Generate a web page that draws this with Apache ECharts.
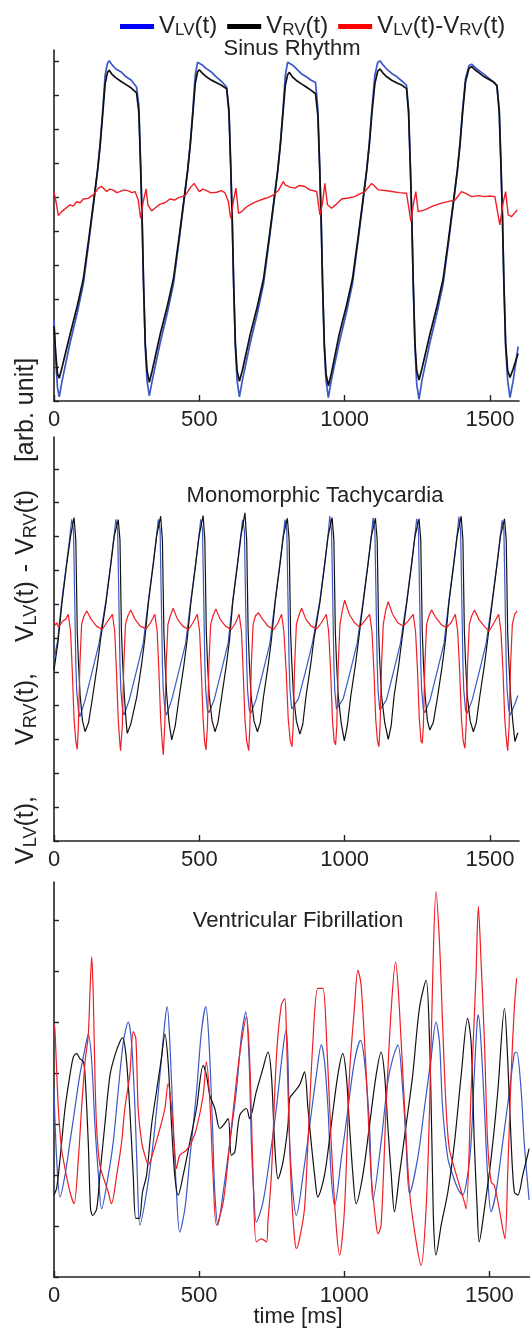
<!DOCTYPE html>
<html><head><meta charset="utf-8">
<script src="https://cdn.jsdelivr.net/npm/echarts@6/dist/echarts.min.js"></script>
<style>html,body{margin:0;padding:0;background:#fff}#c{width:530px;height:1331px}</style>
</head><body><div id="c"></div>
<script>
// ---------------- DATA ----------------
const xTickValues = [0, 500, 1000, 1500];
const sinusYTicks = [0,1,2,3,4,5,6,7,8,9,10];
const tachyYTicks = [0,1,2,3,4,5,6,7,8,9,10,11];
const fibYTicks = [0,1,2,3,4,5,6,7];
const panelTitles = ['Sinus Rhythm', 'Monomorphic Tachycardia', 'Ventricular Fibrillation'];

// Sinus rhythm [time ms, value]
const sinusLV = [[0,2.4],[6,1.2],[12,0.4],[18,0.12],[28,0.6],[55,1.7],[80,2.6],[101,3.45],[120,4.7],[136,5.8],[150,6.8],[159,7.6],[168,8.6],[176,9.6],[184,9.95],[190,10.02],[200,9.9],[213,9.78],[230,9.7],[248,9.55],[266,9.45],[284,9.25],[292,8.7],[298,7.0],[303,5.5],[308,3.5],[314,1.6],[320,0.6],[328,0.15],
[338,0.6],[365,1.7],[390,2.6],[411,3.45],[430,4.7],[446,5.8],[460,6.8],[469,7.6],[478,8.6],[486,9.6],[494,9.98],[500,10.0],[510,9.9],[523,9.8],[540,9.7],[558,9.55],[576,9.42],[594,9.25],[602,8.6],[608,7.0],[613,5.5],[618,3.5],[624,1.6],[630,0.6],[638,0.12],
[648,0.6],[675,1.7],[700,2.6],[721,3.45],[740,4.7],[756,5.8],[770,6.8],[779,7.6],[788,8.6],[796,9.6],[804,9.98],[810,10.02],[820,9.9],[833,9.8],[850,9.65],[868,9.55],[885,9.45],[900,9.38],[908,8.6],[914,7.0],[919,5.5],[924,3.5],[930,1.6],[936,0.6],[944,0.1],
[954,0.6],[981,1.7],[1006,2.6],[1027,3.45],[1046,4.7],[1062,5.8],[1076,6.8],[1085,7.6],[1094,8.6],[1104,9.6],[1114,9.98],[1122,10.02],[1132,9.9],[1145,9.78],[1162,9.65],[1180,9.55],[1198,9.42],[1213,9.3],[1220,8.6],[1226,7.0],[1231,5.5],[1236,3.5],[1242,1.6],[1248,0.5],[1256,0.05],
[1266,0.6],[1293,1.7],[1318,2.6],[1339,3.45],[1358,4.7],[1374,5.8],[1388,6.8],[1397,7.6],[1406,8.6],[1416,9.5],[1428,9.88],[1437,9.92],[1450,9.82],[1465,9.72],[1480,9.62],[1497,9.5],[1512,9.4],[1524,9.28],[1532,8.6],[1538,7.0],[1543,5.5],[1548,3.5],[1554,1.6],[1561,0.6],[1569,0.1],[1580,0.6],[1597,1.6]];

const sinusRV = [[0,2.2],[6,1.4],[12,0.8],[18,0.67],[28,1.0],[55,1.95],[80,2.8],[101,3.6],[120,4.8],[136,5.85],[150,6.8],[159,7.55],[168,8.5],[176,9.35],[184,9.68],[190,9.74],[200,9.62],[213,9.52],[230,9.42],[248,9.32],[266,9.22],[284,9.08],[292,8.5],[298,6.9],[303,5.4],[308,3.5],[314,1.7],[320,0.9],[328,0.55],
[338,0.9],[365,1.95],[390,2.8],[411,3.6],[430,4.8],[446,5.85],[460,6.8],[469,7.55],[478,8.5],[486,9.35],[494,9.7],[500,9.76],[510,9.66],[523,9.56],[540,9.46],[558,9.38],[576,9.3],[594,9.2],[602,8.5],[608,6.9],[613,5.4],[618,3.5],[624,1.7],[630,0.9],[638,0.58],
[648,0.9],[675,1.95],[700,2.8],[721,3.6],[740,4.8],[756,5.85],[770,6.8],[779,7.55],[788,8.5],[796,9.3],[804,9.62],[810,9.68],[820,9.55],[833,9.45],[850,9.35],[868,9.25],[885,9.15],[900,9.05],[908,8.4],[914,6.9],[919,5.4],[924,3.5],[930,1.7],[936,0.8],[944,0.45],
[954,0.8],[981,1.95],[1006,2.8],[1027,3.6],[1046,4.8],[1062,5.85],[1076,6.8],[1085,7.55],[1094,8.5],[1104,9.35],[1114,9.72],[1122,9.78],[1132,9.66],[1145,9.55],[1162,9.45],[1180,9.37],[1198,9.3],[1213,9.2],[1220,8.5],[1226,6.9],[1231,5.4],[1236,3.5],[1242,1.7],[1248,0.9],[1256,0.62],
[1266,0.95],[1293,1.95],[1318,2.8],[1339,3.6],[1358,4.8],[1374,5.85],[1388,6.8],[1397,7.55],[1406,8.5],[1416,9.4],[1428,9.8],[1437,9.85],[1450,9.75],[1465,9.65],[1480,9.55],[1497,9.47],[1512,9.4],[1524,9.3],[1532,8.5],[1538,6.9],[1543,5.4],[1548,3.5],[1554,1.7],[1561,0.9],[1569,0.69],[1580,0.95],[1597,1.4]];

const sinusDiff = [[0,6.17],[7,5.87],[15,5.46],[26,5.58],[38,5.66],[55,5.78],[66,5.74],[78,5.87],[90,5.84],[101,5.95],[118,5.97],[135,6.07],[153,6.27],[164,6.32],[181,6.17],[192,6.24],[204,6.21],[216,6.14],[227,6.17],[240,6.22],[256,6.19],[268,6.14],[279,6.17],[290,5.92],[298,5.38],[307,5.87],[317,6.25],[323,5.78],[336,5.6],[350,5.7],[365,5.8],[382,5.84],[399,5.95],[415,5.92],[428,5.99],[451,6.05],[468,6.27],[482,6.41],[500,6.17],[512,6.24],[525,6.2],[540,6.13],[560,6.15],[575,6.2],[588,6.14],[600,5.87],[608,5.38],[617,5.87],[626,6.27],[635,5.53],[646,5.58],[660,5.7],[674,5.78],[690,5.85],[705,5.9],[720,5.95],[738,6.0],[755,6.07],[772,6.2],[789,6.46],[795,6.37],[812,6.3],[829,6.27],[846,6.35],[863,6.32],[880,6.22],[904,6.17],[915,5.48],[923,5.78],[932,6.41],[941,5.78],[955,5.68],[972,5.8],[990,5.95],[1012,5.98],[1035,6.02],[1052,6.1],[1070,6.17],[1093,6.41],[1116,6.22],[1140,6.2],[1162,6.17],[1188,6.14],[1213,6.12],[1228,5.28],[1236,5.78],[1245,6.17],[1253,5.58],[1276,5.63],[1305,5.75],[1334,5.83],[1358,5.88],[1380,5.92],[1402,6.17],[1420,6.1],[1437,6.02],[1460,6.05],[1483,6.02],[1500,6.04],[1517,6.02],[1534,5.19],[1546,5.87],[1554,6.17],[1563,5.48],[1574,5.43],[1594,5.63]];

// Monomorphic tachycardia
const tachyLV = [[0,5.35],[12,5.9],[27,7.12],[44,8.26],[55,9.04],[61,9.51],
[67,9.19],[71,7.22],[75,5.25],[78,4.46],[84,3.87],[89,3.67],[107,4.17],[130,4.96],[155,5.84],[179,7.12],[196,8.26],[207,9.04],[213,9.51],
[219,9.19],[223,7.22],[227,5.25],[230,4.46],[236,3.87],[241,3.72],[259,4.17],[282,4.96],[307,5.84],[325,7.12],[342,8.26],[353,9.04],[359,9.51],
[365,9.19],[369,7.22],[373,5.25],[376,4.46],[382,3.87],[387,3.72],[405,4.17],[428,4.96],[453,5.84],[471,7.12],[488,8.26],[499,9.04],[505,9.51],
[511,9.19],[515,7.22],[519,5.25],[522,4.46],[528,3.87],[533,3.79],[551,4.17],[574,4.96],[599,5.84],[615,7.12],[632,8.26],[643,9.04],[649,9.49],
[655,9.19],[659,7.22],[663,5.25],[666,4.46],[672,3.87],[677,3.77],[695,4.17],[718,4.96],[743,5.84],[761,7.12],[778,8.26],[789,9.04],[795,9.5],
[801,9.19],[805,7.22],[809,5.25],[812,4.46],[818,3.9],[823,3.87],[841,4.2],[864,4.96],[889,5.84],[915,7.12],[932,8.26],[943,9.04],[949,9.6],
[955,9.19],[959,7.22],[963,5.25],[966,4.46],[972,3.9],[977,3.87],[995,4.2],[1018,4.96],[1043,5.84],[1064,7.12],[1081,8.26],[1092,9.04],[1098,9.55],
[1104,9.19],[1108,7.22],[1112,5.25],[1115,4.46],[1121,3.87],[1126,3.82],[1144,4.17],[1167,4.96],[1192,5.84],[1214,7.12],[1231,8.26],[1242,9.04],[1248,9.52],
[1254,9.19],[1258,7.22],[1262,5.25],[1265,4.46],[1271,3.87],[1276,3.79],[1294,4.17],[1317,4.96],[1342,5.84],[1359,7.12],[1376,8.26],[1387,9.04],[1393,9.58],
[1399,9.19],[1403,7.22],[1407,5.25],[1410,4.46],[1416,3.87],[1421,3.77],[1439,4.17],[1462,4.96],[1487,5.84],[1508,7.12],[1525,8.26],[1536,9.04],[1542,9.48],
[1548,9.19],[1552,7.22],[1556,5.25],[1559,4.46],[1565,3.87],[1570,3.72],[1588,4.1],[1596,4.3]];

const tachyRV = [[0,5.05],[14,5.9],[27,7.0],[44,8.2],[57,9.0],[69,9.56],
[75,8.9],[80,6.2],[84,5.3],[90,4.3],[98,3.55],[107,3.23],[119,3.5],[133,4.27],[149,5.2],[160,5.94],[179,7.05],[196,8.2],[207,9.0],[221,9.5],
[227,8.9],[232,6.2],[236,5.3],[242,4.3],[248,3.55],[252,3.18],[264,3.45],[285,4.27],[301,5.2],[312,5.94],[325,7.05],[342,8.2],[353,9.0],[367,9.6],
[373,8.9],[378,6.2],[382,5.3],[388,4.3],[396,3.5],[405,2.99],[417,3.4],[431,4.27],[447,5.2],[458,5.94],[471,7.05],[488,8.2],[499,9.0],[513,9.62],
[519,8.9],[524,6.2],[528,5.3],[534,4.3],[544,3.55],[554,3.23],[564,3.5],[577,4.27],[593,5.2],[604,5.94],[615,7.05],[632,8.2],[643,9.0],[657,9.7],
[663,8.9],[668,6.2],[672,5.3],[678,4.3],[688,3.55],[700,3.23],[710,3.5],[721,4.27],[737,5.2],[748,5.94],[761,7.05],[778,8.2],[789,9.0],[803,9.54],
[809,8.9],[814,6.2],[818,5.3],[824,4.3],[834,3.55],[846,3.16],[856,3.45],[867,4.27],[883,5.2],[894,5.94],[915,7.05],[932,8.2],[943,9.0],[957,9.56],
[963,8.9],[968,6.2],[972,5.3],[978,4.3],[988,3.5],[999,2.96],[1009,3.4],[1021,4.27],[1037,5.2],[1048,5.94],[1064,7.05],[1081,8.2],[1092,9.0],[1106,9.54],
[1112,8.9],[1117,6.2],[1121,5.3],[1127,4.3],[1138,3.5],[1150,3.0],[1160,3.4],[1170,4.27],[1186,5.2],[1197,5.94],[1214,7.05],[1231,8.2],[1242,9.0],[1256,9.52],
[1262,8.9],[1267,6.2],[1271,5.3],[1277,4.3],[1285,3.55],[1293,3.28],[1305,3.5],[1320,4.27],[1336,5.2],[1347,5.94],[1359,7.05],[1376,8.2],[1387,9.0],[1401,9.6],
[1407,8.9],[1412,6.2],[1416,5.3],[1422,4.3],[1432,3.55],[1443,3.23],[1453,3.5],[1465,4.27],[1481,5.2],[1492,5.94],[1508,7.05],[1525,8.2],[1536,9.0],[1550,9.52],
[1556,8.9],[1561,6.2],[1565,5.3],[1571,4.3],[1579,3.5],[1586,2.94],[1596,3.2]];

const tachyDiff = [[0,6.48],[5,6.38],[10,6.45],[15,6.33],[22,6.4],[30,6.5],[40,6.55],[49,6.7],[57,6.2],[63,5.0],[69,3.6],[75,2.95],[80,2.71],[84,3.4],[89,5.2],[95,6.4],[103,6.65],[113,6.8],[128,6.55],[146,6.35],[166,6.25],[181,6.45],[201,6.7],
[209,6.2],[215,5.0],[221,3.6],[226,2.95],[229,2.67],[235,3.4],[240,5.2],[246,6.4],[254,6.65],[264,6.83],[279,6.55],[297,6.35],[317,6.27],[332,6.45],[347,6.7],
[355,6.2],[361,5.0],[367,3.6],[372,2.95],[376,2.54],[381,3.4],[386,5.2],[392,6.4],[400,6.65],[410,6.88],[425,6.55],[443,6.35],[463,6.25],[478,6.45],[493,6.7],
[501,6.2],[507,5.0],[513,3.6],[518,2.95],[523,2.69],[528,3.4],[533,5.2],[539,6.4],[547,6.65],[557,6.86],[572,6.55],[590,6.35],[610,6.25],[625,6.45],[637,6.7],
[645,6.2],[651,5.0],[657,3.6],[663,2.95],[670,2.67],[674,3.4],[679,5.2],[685,6.4],[693,6.65],[703,6.75],[718,6.55],[736,6.35],[756,6.25],[771,6.45],[783,6.7],
[791,6.2],[799,5.0],[806,3.6],[813,2.95],[819,2.79],[823,3.4],[828,5.2],[834,6.4],[842,6.65],[852,6.88],[867,6.55],[885,6.35],[904,6.27],[920,6.45],[937,6.7],
[945,6.2],[952,5.0],[958,3.6],[964,2.95],[969,2.84],[973,3.4],[978,5.2],[984,6.4],[992,6.8],[1000,7.12],[1016,6.7],[1034,6.45],[1052,6.32],[1068,6.5],[1086,6.7],
[1094,6.2],[1101,5.0],[1107,3.6],[1113,2.95],[1118,2.79],[1122,3.4],[1127,5.2],[1133,6.4],[1141,6.8],[1150,7.07],[1165,6.7],[1183,6.45],[1202,6.35],[1218,6.5],[1236,6.7],
[1244,6.2],[1251,5.0],[1257,3.6],[1263,2.95],[1267,2.89],[1271,3.4],[1276,5.2],[1282,6.4],[1290,6.65],[1299,6.83],[1314,6.6],[1332,6.4],[1350,6.3],[1366,6.45],[1381,6.7],
[1389,6.2],[1396,5.0],[1402,3.6],[1408,2.95],[1414,2.74],[1418,3.4],[1423,5.2],[1429,6.4],[1437,6.65],[1447,6.83],[1462,6.55],[1480,6.35],[1497,6.2],[1514,6.45],[1530,6.7],
[1538,6.2],[1545,5.0],[1551,3.6],[1557,2.95],[1561,2.67],[1566,3.4],[1571,5.2],[1577,6.4],[1585,6.7],[1594,6.8]];

// Ventricular fibrillation
const fibLV = [[0,3.7],[9,2.33],[21,1.57],[38,2.0],[55,2.65],[72,3.31],[89,3.97],[107,4.49],[118,4.77],[130,4.23],[141,2.98],[153,2.0],[164,1.34],[187,2.0],[204,2.65],[221,3.64],[239,4.62],[256,5.01],[267,4.62],[279,3.31],[287,2.0],[296,1.02],[319,1.67],[342,2.65],[365,3.97],[382,5.01],[390,5.31],[399,4.62],[411,2.98],[422,1.67],[433,0.88],[451,1.34],[468,2.33],[491,3.64],[508,4.82],[523,5.31],[534,4.62],[546,2.98],[554,1.67],[565,1.02],[583,1.67],[606,2.65],[628,3.64],[646,4.75],[661,5.21],[672,4.29],[680,2.65],[688,1.67],[697,1.08],[720,1.47],[743,2.33],[766,3.31],[789,4.49],[800,4.85],[806,4.29],[812,2.65],[823,1.67],[835,1.21],[858,2.0],[881,2.98],[904,3.97],[921,4.56],[932,4.23],[944,3.31],[955,2.0],[967,1.41],[990,2.33],[1013,3.31],[1035,4.23],[1056,4.65],[1070,4.23],[1087,2.98],[1099,1.51],[1127,2.65],[1150,3.83],[1167,4.29],[1185,4.56],[1202,3.64],[1213,2.65],[1225,1.64],[1253,2.33],[1276,3.31],[1299,4.29],[1316,5.01],[1328,4.62],[1339,3.31],[1357,2.33],[1374,2.0],[1391,1.74],[1408,1.61],[1425,2.0],[1437,2.65],[1448,3.97],[1458,5.01],[1462,5.15],[1471,4.62],[1483,3.31],[1494,2.0],[1506,1.28],[1523,1.67],[1546,2.65],[1569,3.64],[1586,4.39],[1594,4.42],[1609,3.7],[1620,2.65],[1637,1.51]];

const fibRV = [[0,1.61],[9,1.74],[21,2.33],[38,3.31],[55,3.97],[67,4.33],[78,4.39],[89,4.29],[101,4.23],[107,3.97],[118,2.65],[126,1.34],[133,1.21],[147,1.34],[158,2.0],[175,2.98],[193,3.97],[210,4.36],[227,4.62],[236,4.7],[248,4.36],[261,3.31],[273,2.0],[282,1.15],[294,1.15],[305,1.67],[319,2.0],[336,2.98],[353,3.64],[370,4.29],[382,4.77],[393,4.23],[405,2.98],[416,2.0],[428,1.61],[445,2.0],[468,2.65],[491,3.31],[514,4.16],[525,3.97],[537,3.57],[554,3.31],[571,2.92],[583,2.98],[600,3.11],[611,2.39],[623,2.46],[640,3.18],[663,3.31],[674,3.11],[697,3.64],[720,4.1],[737,4.42],[749,3.97],[760,2.65],[772,1.93],[789,2.26],[806,2.98],[812,3.51],[829,3.64],[846,3.77],[863,4.03],[875,3.31],[886,2.65],[898,2.0],[909,1.57],[932,2.0],[955,2.98],[978,3.97],[995,4.39],[1007,3.97],[1018,2.98],[1030,2.0],[1041,1.44],[1064,2.0],[1087,2.98],[1110,3.97],[1127,4.42],[1139,3.97],[1150,2.98],[1162,2.0],[1173,1.28],[1190,2.0],[1213,2.98],[1236,3.97],[1259,5.28],[1282,5.83],[1294,4.62],[1302,2.65],[1308,1.02],[1316,0.43],[1334,1.02],[1357,1.67],[1380,2.65],[1403,3.97],[1425,5.08],[1437,4.62],[1448,2.65],[1458,1.34],[1465,0.69],[1483,1.34],[1506,2.33],[1529,3.64],[1552,5.28],[1563,4.29],[1575,2.65],[1586,1.67],[1598,1.61],[1615,2.0],[1637,2.52]];

const fibDiff = [[0,4.95],[3,4.88],[15,3.31],[26,2.52],[38,2.13],[55,1.67],[69,1.44],[84,2.33],[95,3.31],[107,4.23],[118,4.75],[124,5.6],[130,6.29],[135,5.6],[141,3.97],[147,2.92],[158,2.2],[175,1.87],[187,1.67],[198,1.44],[216,2.0],[233,2.65],[244,3.31],[261,3.97],[273,4.82],[282,4.69],[290,3.31],[302,2.65],[313,2.39],[325,2.2],[342,2.46],[365,2.92],[382,3.31],[393,3.8],[405,3.31],[416,2.46],[422,2.13],[433,2.39],[456,2.49],[474,2.65],[491,2.92],[514,3.57],[525,4.23],[537,3.44],[548,2.0],[560,1.02],[583,1.47],[606,2.65],[628,3.83],[646,4.62],[663,5.11],[674,4.29],[686,2.0],[697,0.69],[714,0.75],[732,0.69],[737,1.08],[749,2.0],[766,4.29],[783,5.34],[795,5.47],[800,4.95],[806,3.7],[818,1.67],[829,0.75],[835,0.56],[846,0.75],[863,1.34],[875,2.65],[892,4.62],[909,5.67],[926,5.67],[938,4.82],[955,2.65],[972,1.02],[984,0.43],[1001,1.34],[1018,3.97],[1035,5.28],[1047,6.03],[1058,5.74],[1076,3.97],[1093,2.0],[1110,1.02],[1116,0.85],[1127,1.02],[1144,3.31],[1162,5.28],[1177,6.19],[1190,5.28],[1208,3.31],[1225,1.67],[1248,0.69],[1265,0.23],[1282,1.34],[1294,3.31],[1305,5.93],[1316,7.57],[1328,6.59],[1339,4.95],[1351,3.31],[1362,2.52],[1380,2.13],[1397,1.8],[1414,1.47],[1420,1.34],[1437,3.64],[1454,5.93],[1462,7.28],[1471,6.26],[1483,4.62],[1494,2.65],[1506,1.87],[1517,1.8],[1534,1.34],[1546,0.95],[1554,0.75],[1563,2.0],[1575,3.97],[1586,5.28],[1594,5.87]];

// ---------------- CHART ----------------
const FONT = '"Liberation Sans", Arial, Helvetica, sans-serif';
const BLUE = '#3a58c6', BLACK = '#111111', RED = '#f01d24';
const grids = [
  {left: 54, right: 11, top: 50, height: 351},
  {left: 54, right: 11, top: 437, height: 404},
  {left: 54, right: 0, top: 882, height: 395}
];
const xMax = [1600, 1600, 1640];
const yMax = [10.34, 11.94, 7.76];
const yTicks = [sinusYTicks, tachyYTicks, fibYTicks];

const xAxes = grids.map((g, i) => ({
  type: 'value', gridIndex: i, min: 0, max: xMax[i], interval: 500,
  axisLine: {lineStyle: {color: '#222', width: 1.6}},
  axisTick: {inside: true, length: 6, lineStyle: {color: '#222', width: 1.4}, customValues: xTickValues},
  axisLabel: {customValues: xTickValues, fontSize: 22, color: '#222', fontFamily: FONT, margin: 8, formatter: v => String(v)},
  splitLine: {show: false}
}));
const yAxes = grids.map((g, i) => ({
  type: 'value', gridIndex: i, min: 0, max: yMax[i], interval: 1,
  axisLine: {show: true, lineStyle: {color: '#222', width: 1.6}},
  axisTick: {show: true, inside: true, length: 5, lineStyle: {color: '#222', width: 1.4}, customValues: yTicks[i]},
  axisLabel: {show: false},
  splitLine: {show: false}
}));

const N_LV = 'VLV', N_RV = 'VRV', N_D = 'VD';
function mk(name, data, color, idx, w, smooth) {
  return {name, type: 'line', xAxisIndex: idx, yAxisIndex: idx, data, showSymbol: false, symbol: 'none',
    smooth: smooth || false,
    lineStyle: {color, width: w}, itemStyle: {color}, animation: false, clip: true};
}
const series = [
  mk(N_LV, sinusLV, BLUE, 0, 1.7), mk(N_RV, sinusRV, BLACK, 0, 1.7), mk(N_D, sinusDiff, RED, 0, 1.4),
  mk(N_LV, tachyLV, BLUE, 1, 1.2), mk(N_RV, tachyRV, BLACK, 1, 1.2), mk(N_D, tachyDiff, RED, 1, 1.2),
  mk(N_LV, fibLV, BLUE, 2, 1.2, 0.3), mk(N_RV, fibRV, BLACK, 2, 1.2, 0.3), mk(N_D, fibDiff, RED, 2, 1.2, 0.3)
];

const rich = {
  m: {fontSize: 24, fontFamily: FONT, color: '#222', lineHeight: 25, verticalAlign: 'top'},
  s: {fontSize: 17, fontFamily: FONT, color: '#222', lineHeight: 25, verticalAlign: 'bottom', padding: [11, 0, 0, 0]}
};
const legendText = {
  VLV: '{m|V}{s|LV}{m|(t)}',
  VRV: '{m|V}{s|RV}{m|(t)}',
  VD: '{m|V}{s|LV}{m|(t)-V}{s|RV}{m|(t)}'
};

const yRich = {
  m: {fontSize: 25, fontFamily: FONT, color: '#222', lineHeight: 27, verticalAlign: 'top'},
  d: {fontSize: 25, fontFamily: FONT, color: '#222', lineHeight: 27, verticalAlign: 'top', padding: [0, 9, 0, 9]},
  s: {fontSize: 18, fontFamily: FONT, color: '#222', lineHeight: 27, verticalAlign: 'bottom', padding: [12, 0, 0, 0]}
};
function vtext(text, y) {
  return {type: 'text', x: 27, y, rotation: Math.PI / 2, silent: true,
    style: {text, rich: yRich, align: 'center', verticalAlign: 'middle', fill: '#222'}};
}
function htext(text, x, y, size) {
  return {type: 'text', x, y, silent: true,
    style: {text, font: size + 'px ' + FONT, fill: '#222', align: 'center', verticalAlign: 'middle'}};
}

const option = {
  animation: false,
  backgroundColor: '#fff',
  grid: grids,
  xAxis: xAxes,
  yAxis: yAxes,
  legend: {
    left: 115, top: 6, icon: 'rect', itemWidth: 34, itemHeight: 5, itemGap: 10,
    data: [{name: N_LV, itemStyle: {color: '#0000ff'}}, {name: N_RV, itemStyle: {color: '#000'}}, {name: N_D, itemStyle: {color: '#ff0000'}}],
    formatter: n => legendText[n],
    textStyle: {rich, fontFamily: FONT, fontSize: 24, color: '#222'}
  },
  graphic: [
    htext(panelTitles[0], 292, 49, 22),
    htext(panelTitles[1], 315, 496, 22),
    htext(panelTitles[2], 298, 921, 22),
    htext('time [ms]', 298, 1317, 22),
    vtext('{m|[arb. unit]}', 410),
    vtext('{m|V}{s|LV}{m|(t)}{d|-}{m|V}{s|RV}{m|(t)}', 566),
    vtext('{m|V}{s|RV}{m|(t),}', 709),
    vtext('{m|V}{s|LV}{m|(t),}', 830)
  ],
  series
};
const chart = echarts.init(document.getElementById('c'), null, {renderer: 'canvas'});
chart.setOption(option);
</script></body></html>
